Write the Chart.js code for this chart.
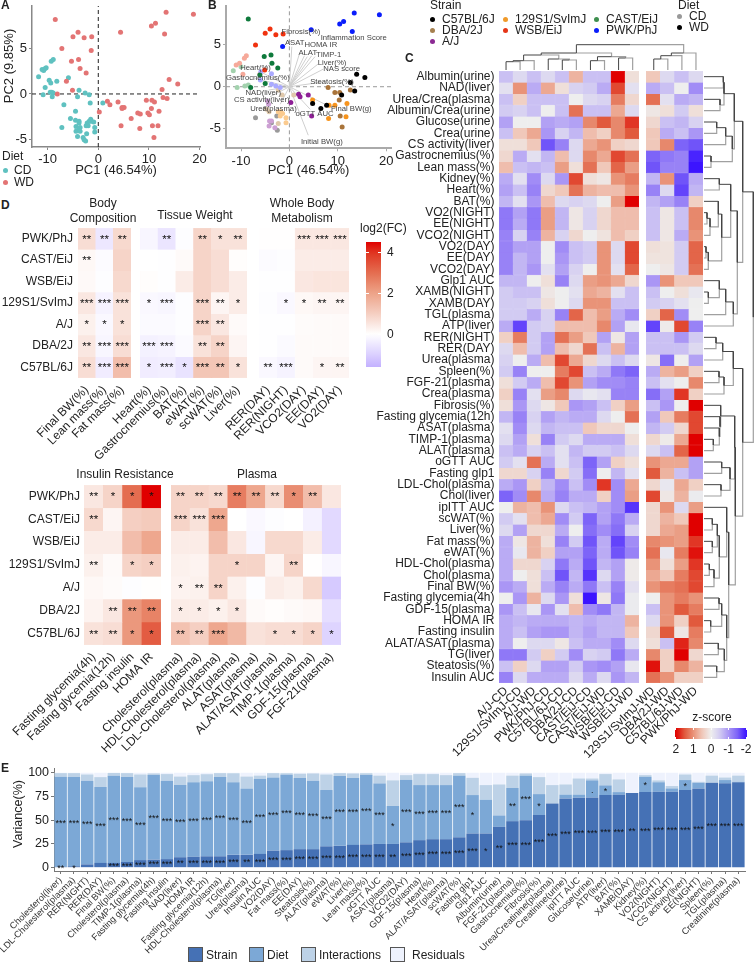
<!DOCTYPE html>
<html>
<head>
<meta charset="utf-8">
<title>Strain and diet metabolic phenotypes</title>
<script src="https://cdn.jsdelivr.net/npm/chart.js@4"></script>
<style>
  html, body { margin: 0; background: #fff; }
  #page { position: relative; width: 754px; height: 963px; overflow: hidden; font-family: "Liberation Sans", Arial, sans-serif; color: #222; }
  #page canvas { position: absolute; }
  .txt { position: absolute; white-space: pre; line-height: 1.25; }
</style>
</head>
<body>
<div id="page"></div>
<script>
// ---- A: PCA by diet
const pcaCD = [[-11.8,1.9],[-11.1,2.7],[-10.8,2.6],[-10.5,2.8],[-10.3,2.9],[-9.3,3.6],[-8.9,3.8],[-5.9,1.8],[-9.7,1.5],[-9.4,1.2],[-8.2,1.4],[-10.5,0.7],[-9.5,0.2],[-9.2,0.2],[-8.9,0.1],[-10.9,-0.1],[-9.1,-0.3],[-3.8,0.4],[-2.6,0.1],[-1.8,-0.1],[-4.1,-0.3],[-6.8,-1.2],[-1.6,-1.0],[0.9,-1.0],[-4.5,-1.9],[-5.5,-2.7],[-4.5,-2.9],[-3.8,-3.0],[-3.8,-3.2],[-7.2,-3.7],[-4.4,-3.6],[-2.2,-3.2],[-1.5,-2.8],[-1.8,-3.0],[-2.4,-3.5],[-2.0,-3.5],[-1.4,-3.0],[-0.9,-3.1],[-0.7,-3.7],[-0.7,-4.2],[-3.6,-3.7],[-3.9,-4.0],[-4.4,-4.1],[-3.6,-4.1],[-4.1,-4.7],[-2.3,-4.4],[-3.0,-4.8],[-2.5,-5.2],[-2.8,-5.05]];
const pcaWD = [[-8.5,8.2],[-5.0,6.3],[-4.0,6.8],[-2.8,6.2],[-1.3,6.3],[-7.2,5.0],[-1.4,4.8],[-5.3,3.6],[-3.9,3.8],[-3.6,2.8],[-2.4,2.3],[-6.3,1.4],[-5.1,0.4],[-8.1,0.0],[4.4,6.8],[10.5,7.5],[11.3,7.8],[13.4,9.0],[18.8,8.8],[13.1,6.6],[14.0,1.6],[15.7,1.1],[12.6,0.5],[12.8,-0.4],[13.6,-0.5],[1.8,-0.8],[2.3,-1.2],[0.2,-2.0],[3.9,-0.9],[4.7,-1.5],[5.1,-1.5],[4.7,-1.6],[6.5,-2.7],[7.8,-2.1],[8.3,-2.2],[9.5,-0.7],[10.6,-0.7],[11.1,-0.9],[10.5,-1.6],[9.8,-2.1],[10.1,-2.3],[12.0,-1.9],[4.5,-3.5],[8.2,-3.8],[10.7,-3.5],[11.8,-3.5],[11.0,-4.8]];

// ---- B: PCA by strain (WD then CD)
const pwkWD = [[13.4,8.8],[18.6,8.6],[11.2,7.8],[10.4,7.5],[13.0,6.6],[4.5,6.8],[-1.4,4.8]];
const wsbWD = [[-4.0,6.9],[-5.0,6.4],[-2.8,6.2],[-1.3,6.3],[-7.0,5.0],[-5.1,2.0]];
const castWD = [[-8.5,8.1],[-5.2,3.6],[-3.8,3.8],[-3.6,2.8],[-2.4,2.25],[-6.1,1.4],[-5.0,0.4],[-8.0,-0.1]];
const c57WD = [[13.9,1.5],[15.6,1.1],[12.6,0.5],[13.5,-0.5],[10.8,-1.0],[4.8,-2.0],[7.7,-2.2],[6.5,-2.6]];
const dbaWD = [[8.0,-0.1],[9.4,-0.7],[10.4,-0.7],[12.6,-0.4],[10.3,-1.6],[10.5,-3.5],[10.9,-4.8]];
const s129WD = [[4.8,-1.6],[8.2,-2.2],[9.4,-2.2],[11.9,-2.0],[11.7,-3.6],[8.1,-3.8]];
const ajWD = [[1.9,-0.9],[2.2,-1.2],[3.9,-1.0],[0.3,-1.9],[4.6,-3.5]];
const pwkCD = [[-5.9,1.8],[-3.7,1.55],[-6.0,0.8],[-3.7,0.3],[-2.8,0.1],[-1.9,-0.1]];
const wsbCD = [[-8.9,3.7],[-9.3,3.4],[-10.3,2.8],[-11.0,2.6],[-9.6,1.5],[-6.1,1.5]];
const castCD = [[-11.6,1.9],[-9.2,0.1],[-10.8,-0.1],[-8.5,0.2],[-10.0,2.4]];
const s129CD = [[-2.3,-3.0],[-1.8,-3.0],[-1.4,-3.2],[-0.7,-3.7],[-0.7,-4.3],[-1.9,-3.5]];
const ajCD = [[-4.5,-1.7],[-4.3,-2.1],[-4.1,-4.1],[-4.2,-4.7],[-3.0,-4.9],[-3.7,-4.1]];
const dbaCD = [[-2.3,-0.4],[-1.5,-1.0],[0.9,-1.0],[-4.2,-3.0],[-2.3,-4.4],[-4.7,-2.7]];
const c57CD = [[-7.0,-3.7],[-2.6,-3.5],[-3.7,-4.3],[-2.5,-5.2],[-5.0,-2.6]];
const loadingEnds = [[0.5,4.8],[2.0,3.8],[3.1,3.7],[3.7,3.6],[4.6,3.7],[5.3,3.6],[5.9,2.7],[7.0,2.1],[7.4,0.6],[-5.7,1.7],[-7.1,0.97],[-4.3,-0.4],[-4.0,-1.2],[-1.9,-2.1],[8.8,-2.5],[4.3,-2.7],[3.9,-5.8]];
const biplotNames = ["Fibrosis(%)","Inflammation Score","ASAT","HOMA IR","ALAT","TIMP-1","Liver(%)","NAS score","Steatosis(%)","Heart(%)","Gastrocnemius(%)","NAD(liver)","CS activity(liver)","Urea(plasma)","Final BW(g)","oGTT AUC","Initial BW(g)"];
const biplotX = [2.4,13.3,1.1,6.5,3.8,8.1,8.8,10.8,8.8,-7.0,-6.5,-5.4,-5.7,-3.3,12.8,5.2,6.7];
const biplotY = [6.5,5.8,5.2,5.0,4.1,3.8,2.9,2.1,0.6,2.3,1.1,-0.7,-1.6,-2.6,-2.6,-3.3,-6.55];

// ---- C: z-score heatmap
const heatCols = ["A/J-CD","129S1/SvImJ-CD","A/J-WD","PWK/PhJ-CD","C57BL/6J-CD","DBA/2J-CD","CAST/EiJ-CD","CAST/EiJ-WD","WSB/EiJ-CD","WSB/EiJ-WD","129S1/SvImJ-WD","DBA/2J-WD","C57BL/6J-WD","PWK/PhJ-WD"];
const heatRows = ["Albumin(urine)","NAD(liver)","Urea/Crea(plasma)","Albumin/Crea(urine)","Glucose(urine)","Crea(urine)","CS activity(liver)","Gastrocnemius(%)","Lean mass(%)","Kidney(%)","Heart(%)","BAT(%)","VO2(NIGHT)","EE(NIGHT)","VCO2(NIGHT)","VO2(DAY)","EE(DAY)","VCO2(DAY)","Glp1 AUC","XAMB(NIGHT)","XAMB(DAY)","TGL(plasma)","ATP(liver)","RER(NIGHT)","RER(DAY)","Urea(plasma)","Spleen(%)","FGF-21(plasma)","Crea(plasma)","Fibrosis(%)","Fasting glycemia(12h)","ASAT(plasma)","TIMP-1(plasma)","ALAT(plasma)","oGTT AUC","Fasting glp1","LDL-Chol(plasma)","Chol(liver)","ipITT AUC","scWAT(%)","Liver(%)","Fat mass(%)","eWAT(%)","HDL-Chol(plasma)","Chol(plasma)","Final BW(%)","Fasting glycemia(4h)","GDF-15(plasma)","HOMA IR","Fasting insulin","ALAT/ASAT(plasma)","TG(liver)","Steatosis(%)","Insulin AUC"];
const zScores = [
  [-.6,-.3,-.6,-.3,-.6,.7,-.6,-.6,2,.2,.5,-.3,-.6,-.3],
  [-.2,1,-.8,.8,.2,-.4,-.5,-.8,1.6,-.2,-.8,-.6,0,-1.1],
  [-.6,.4,-.6,-.6,-.6,0,-.3,-.4,1.2,.3,1.3,-.2,-.8,-.7],
  [-.5,-.4,-.6,0,-.6,1.3,-.6,-.6,.8,-.3,.1,.2,-.5,.2],
  [-.9,0,0,-.9,-.8,-.9,1.1,1.5,1.1,1.7,.3,-.6,-.7,-.4],
  [-.6,.5,.8,-1,-.4,-.7,.6,.4,1.1,1.5,.5,-.8,-.6,-1],
  [.2,.2,.5,-1.6,-1.2,-.3,.8,1,.4,.3,.5,1.1,-1.5,-1.6],
  [.3,-.8,-.2,-.7,.6,-.3,1.1,.8,1.6,1.3,-1.5,-1.3,-1.2,-1.9],
  [.6,-.6,-.7,-.6,.9,.2,1.3,.5,1.4,.9,-1.6,-1.2,-1.2,-2],
  [-.8,-.2,-1.1,-.3,-1,1.6,.2,.1,1,1.2,-.7,1,-1.6,-.8],
  [-.9,-.6,-1.2,.3,.5,1.3,.7,.6,.6,1,-1.2,-.3,-1.7,-.7],
  [-.7,-.2,-1,.6,-.3,-.4,-.3,0,.9,2,-.7,-.9,-1.2,.4],
  [-1.3,-.9,-1.3,.9,-.7,.1,-.4,.3,.6,.6,-.6,.1,-.6,1.1],
  [-1.3,-.8,-1.3,.9,-.7,.1,-.4,.3,.6,.6,-.6,.1,-.6,1.1],
  [-1.2,-.4,-1.2,.7,-.4,.3,0,.15,.6,.4,-.6,.1,-.8,1],
  [-1.2,-.9,-.9,0,-1.1,-.6,-.5,1,-.3,1.6,.2,.15,-.5,1.4],
  [-1.2,-.7,-.9,0,-1,-.6,-.5,1,-.3,1.6,.15,.15,-.5,1.4],
  [-1.2,-.7,-1,-.2,-.9,-.4,0,1,-.2,1.4,0,.1,-.5,1.3],
  [-.7,-.7,0,.2,-1.2,-.3,.9,1,.8,.3,-1,1,.5,.5],
  [-.5,-.6,-.6,.1,0,-.2,.8,.7,-.2,-.6,-.6,0,.2,-.1],
  [-.5,-.5,-.4,.2,0,-.3,1,1,-.6,-.6,-.5,-.4,-.2,0],
  [-.5,-.5,-.8,-.4,-1.2,1.4,.6,.9,-.8,-1.1,.4,1.4,-1.1,0],
  [-.8,-1.7,-.5,-.4,.6,.6,.6,1.1,-.9,-.1,-1.7,.05,1.6,-1.2],
  [.4,1.2,-.5,-.9,1.3,.9,.5,-.9,.1,-.9,-.6,-.6,-1,-.5],
  [-.3,.6,-.5,-.9,.6,.3,1.3,-.6,.7,-.9,-.6,-.6,-.6,-.3],
  [-.4,0,-.8,.6,1.6,.8,.3,-.3,-.6,-.3,.1,-1.4,0,-.9],
  [-.5,-1.2,0,0,1.2,1.6,-.6,-.8,-1.3,-1.5,-.8,.7,.9,.4],
  [.2,-.5,-.8,.6,1.6,1,-.9,-1.1,-1.1,-1.2,-.6,-.2,0,1.1],
  [.4,-1.2,-.2,.9,1.1,-.3,-.1,-.2,-1.2,-1.2,-1.4,-.9,1.7,.4],
  [.2,-1,-.3,.1,.5,-1,-.9,-.6,.4,.9,-.6,-1,0,2],
  [-.7,-1.2,-.4,-.9,-.7,-.8,-.8,-.3,0,1.3,-.9,.5,1.2,1.6],
  [-.2,-1.1,-.3,-.7,-.6,-.6,.5,.3,.3,0,-.7,-.5,.3,1.6],
  [-.3,-.9,.2,-1.2,-.5,-.3,-.8,-.8,-.8,.2,.3,.05,.8,2],
  [-.6,-.8,-.4,-.6,-.2,-.7,-.5,-.5,-.6,-.3,-.3,-.6,1.4,2],
  [-.5,-.2,1.3,-.8,-.2,-.6,-1.5,-.9,.4,.2,1,.8,.8,-.9],
  [.3,.3,-.4,-1.2,.3,-.5,-1.4,0,-.7,-.2,1.5,.7,-.6,-.9],
  [-.8,-1,.4,-.7,-1.1,-.6,-1.1,1.7,-1.1,.8,.3,-.1,.8,.4],
  [-1.5,-1.1,1.1,-.8,-1.2,-.8,-.8,.4,-1.1,.9,1.6,.1,.7,-.05],
  [0,.7,.6,1,-.3,-.6,-.7,-.9,-1.1,-1.8,.3,1,-.3,.9],
  [-.5,-.2,.6,.8,-1.1,-.5,-1.5,-.9,-1.3,-.8,.3,.7,.5,2],
  [-.3,-.9,.3,.3,-.8,0,-1.4,-1.1,-1.4,-.4,.3,.8,.9,2],
  [-.8,.1,.7,.2,-1.2,-.5,-1.6,-.8,-1.7,-1.1,1.1,1,.9,1.7],
  [-.8,-.1,.7,.4,-.9,-.9,-1.5,-.8,-1.6,-1.2,1.3,-.1,1.2,1.9],
  [-.8,.3,.3,-.4,-1.3,-.8,-1.6,-.7,-.9,.05,1,.2,.9,1.7],
  [-.8,0,.2,-.6,-1.6,-.7,-1.8,-.3,-.9,.05,.8,.5,1.2,1.6],
  [-1,-.8,.2,-.8,-1.2,-.8,-1.3,-.6,-1.2,-.2,1,1.2,1.3,1.6],
  [0,-1,.7,-.3,-1,.2,-2,.1,-1.3,-.05,0,1,1.2,1],
  [-1,-.6,-.1,-1,-.2,.6,-1.1,-1.3,-.7,-.05,-.6,1,1.5,1.2],
  [-.8,-.7,-.8,-.8,-.8,-.7,-.8,-.7,-.7,.7,-.3,1,.4,1.5],
  [-.8,-.6,-.9,-1,-1,-.7,-.9,-.7,-.7,.5,.3,1.5,.1,1.2],
  [-.8,0,-.3,-.3,.1,-.6,-.8,-.8,-1.1,-.3,.2,-.6,1.8,1.1],
  [-1.3,-1.3,-.5,.4,-.5,-1.1,-.4,-.5,-1.3,-.8,1.1,.4,2,.3],
  [-.6,.4,-.3,-.9,-.9,-.5,-1,-1.1,-.9,-.1,1.9,.4,1.1,.7],
  [-1.2,-.3,-.8,-.8,-.8,-.3,-.8,-.3,-1,-.7,1.3,1,.4,.4]
];
// dendrograms: [height, left, right], a plain number is a leaf index
const colTree = [25.3, [17, [15, [9.3, [8.3, 0, 1], 2], [11, 3, [10, 4, 5]]], [13.3, [9.3, 6, 7], [12, 8, 9]]], [17, [14.3, [11, 10, 11], 12], 13]];
const rowTree = [49.3,
  [38.7,
    [30.3, [20, [19.3, 0, 1], [16, 2, 3]], [28.3, [21.7, [12.7, 4, 5], 6], [7, 7, 8]]],
    [33.3,
      [26.7, [15.3, 9, 10], [17.7, [14.3, 11, [6, [3, 12, 13], 14]], [4.3, [2, 15, 16], 17]]],
      [29.3, [21.7, [15.3, 18, [4.3, 19, 20]], 21], 22]]],
  [38.7,
    [29.3, [18.7, [12, 23, 24], 25], [20, [15, 26, 27], 28]],
    [31.3,
      [30.7, [16.7, 29, [16, 30, [15.3, 31, [9.3, 32, 33]]]], [26, [17.7, 34, 35], [17, 36, 37]]],
      [24.7,
        [22.7, 38, [15.3, [13.3, [8.3, 39, 40], [8.3, 41, 42]], [10, [5.3, 43, 44], 45]]],
        [22.7, [17.7, [15, 46, 47], [6.7, 48, 49]], [20.3, [14.3, 50, 51], [12.7, 52, 53]]]]]]];

// ---- D: log2(FC) heatmaps
const strains = ["PWK/PhJ","CAST/EiJ","WSB/EiJ","129S1/SvImJ","A/J","DBA/2J","C57BL/6J"];
const bodyCols = ["Final BW(%)","Lean mass(%)","Fat mass(%)"];
const bodyFC = [[.7,-.5,.8],[.15,-.08,.9],[.12,-.05,.8],[.5,-.25,.6],[.3,-.15,.6],[.5,-.2,.7],[.7,-.4,1.4]];
const bodyStars = [["**","**","**"],["**","",""],["","",""],["***","***","***"],["*","*","*"],["**","***","***"],["**","***","***"]];
const tissueCols = ["Heart(%)","Gastrocnemius(%)","BAT(%)","eWAT(%)","scWAT(%)","Liver(%)"];
const tissueFC = [[-.2,-.55,-.05,.9,.6,.6],[0,-.03,.1,.9,.7,.05],[.05,-.03,.4,.9,.7,.4],[-.15,-.2,-.05,.9,.2,.4],[-.1,-.1,-.05,.9,.5,.1],[-.3,-.25,-.1,.6,.9,.2],[-.4,-.35,-.6,1.2,1.2,.6]];
const tissueStars = [["","**","","**","*","**"],["","","","","",""],["","","","","",""],["*","***","","***","**","*"],["","","","***","**",""],["***","***","","**","**",""],["*","***","*","***","**","*"]];
const wholeCols = ["RER(DAY)","RER(NIGHT)","VCO2(DAY)","EE(DAY)","VO2(DAY)"];
const wholeFC = [[.02,.02,.5,.5,.5],[-.08,-.05,.4,.4,.4],[-.03,-.02,.5,.55,.55],[-.05,-.15,.15,.2,.2],[-.02,-.02,.08,.1,.1],[-.03,-.1,.1,.1,.1],[-.15,-.25,.1,.2,.2]];
const wholeStars = [["","","***","***","***"],["","","","",""],["","","","",""],["","*","*","**","**"],["","","","",""],["","","","",""],["**","***","","*","**"]];
const insulinCols = ["Fasting glycemia(4h)","Fasting glycemia(12h)","Fasting insulin","HOMA IR"];
const insulinFC = [[.5,.9,3,4.5],[.8,.2,1,1.1],[.4,.4,1.4,1.9],[.3,.1,.9,1],[.15,.08,-.05,.03],[.25,.5,2.2,2.6],[.6,.7,2.2,3.3]];
const insulinStars = [["**","*","*","*"],["**","","",""],["","","",""],["**","","*","*"],["","","",""],["","**","**","**"],["**","**","*","*"]];
const plasmaCols = ["Cholesterol(plasma)","HDL-Cholesterol(plasma)","LDL-Cholesterol(plasma)","ALAT(plasma)","ASAT(plasma)","ALAT/ASAT(plasma)","TIMP-1(plasma)","GDF-15(plasma)","FGF-21(plasma)"];
const plasmaFC = [[.9,.9,.8,2.7,1.9,.8,2.4,1.4,.5],[.9,.6,1.9,0,-.15,-.05,0,-.3,-.8],[.4,.4,1.4,.5,-.2,.8,.8,.4,-.8],[.3,.25,.9,.9,.9,.2,.9,.02,-.2],[.25,.3,.9,.3,-.05,.4,.3,.8,-1.1],[.4,.4,.3,.5,.1,.05,.1,.15,-.7],[1.3,1,1.9,1.5,.6,.7,.7,.9,-.9]];
const plasmaStars = [["**","**","**","**","**","**","*","**",""],["***","***","***","","","","","",""],["","","","","","","","",""],["","","","*","","","**","",""],["*","**","**","","","","","",""],["*","*","*","*","","","","",""],["**","**","***","","","*","*","*","*"]];

// ---- E: variance decomposition
const varLabels = ["Cholesterol(liver)","LDL-Cholesterol(plasma)","RER(NIGHT)","RER(DAY)","Final BW(%)","Cholesterol(plasma)","TIMP-1(plasma)","Fasting glycemia(4h)","Fasting insulin","NAD(liver)","HOMA IR","Fasting glycemia(12h)","HDL-Cholesterol(plasma)","TG(liver)","Urea(plasma)","Insulin AUC","VO2(DAY)","Fat mass(%)","EE(DAY)","Steatosis(%)","ALAT(plasma)","eWAT(%)","Liver(%)","Lean mass(%)","oGTT AUC","ASAT(plasma)","VCO2(DAY)","GDF-15(plasma)","Heart(%)","ALAT/ASAT(plasma)","scWAT(%)","Fasting glp1","Glp1 AUC","Albumin(urine)","FGF-21(plasma)","Gastrocnemius(%)","Fibrosis(%)","Urea/Creatinine(plasma)","Creatinine(urine)","ipITT AUC","Glucose(urine)","ATP(liver)","BAT(%)","XAMB(DAY)","Kidney(%)","VO2(NIGHT)","VCO2(NIGHT)","CS activity(liver)","EE(NIGHT)","Spleen(%)","TGL(plasma)","Creatinine(plasma)"];
const varStrain = [1,1.5,3.5,5,5,6,8,8.5,9,11,11.5,12,12,13.5,13.5,14.5,18,18.5,19.5,19.5,22.5,23,24,24.5,25,25,26.7,29,30,30,32,36,36,43,49,50,55.5,67.7,73,73.7,74,76.5,76.8,78.6,79.6,80,80,81.8,83.5,89.5,89,90];
const varDiet = [94.8,93.9,88.1,80,91.8,89.4,76.6,89,82.6,76,78.5,79,83.4,76.5,70,79.2,77,79.3,74.9,72.1,59.3,73.5,70.4,73,63.8,40,65.9,58,57,57,65,40.5,35.6,12,35,47,22,0,4,3.3,18,10.2,2.8,0,16.2,10,3.5,10.5,6,0,3.3,.5];
const varInter = [3.8,4.2,6.6,10.4,3,4.2,13.6,1.8,7,9,7.5,7.5,4.2,9.5,12.5,3.3,4.6,1.7,4.6,7.7,16.4,3.1,4.9,2,8.2,27,4.9,11.6,11.6,10.5,2.6,18.2,15.4,32.7,13,2.3,17.9,19.3,10.7,17,2,11.9,13.4,0,1.7,2,2.5,5.9,1,7.5,2.7,6.5];
const varResid = [.4,.4,1.8,4.6,.2,.4,1.8,.7,1.4,4,2.5,1.5,.4,.5,4,3,.4,.5,1,.7,1.8,.4,.7,.5,3,8,2.5,1.4,1.4,2.5,.4,5.3,13,12.3,3,.7,4.6,13,12.3,6,6,1.4,7,21.4,2.5,8,14,1.8,9.5,3,5,3];
const strainStars = ["**","*","","","***","***","***","***","***","**","***","***","***","***","**","***","***","***","***","***","***","***","***","***","***","**","***","***","***","***","***","***","*","**","***","***","***","***","***","***","***","***","***","**","***","***","***","***","***","***","***","***"];
const dietStars = ["***","***","***","***","***","***","***","***","***","***","***","***","***","***","***","***","***","***","***","***","***","***","***","***","***","*","***","***","***","***","***","*","","","**","***","*","","","",".","*","","","*","","","*","","","",""];

// ---- helpers
const FONT = '"Liberation Sans", Arial, sans-serif';
Chart.defaults.font.family = FONT;
Chart.defaults.color = "#222";
Chart.defaults.animation = false;
Chart.defaults.responsive = false;
Chart.defaults.events = [];
Chart.defaults.plugins.legend.display = false;
Chart.defaults.plugins.tooltip.enabled = false;

const page = document.getElementById("page");

function addCanvas(left, top, width, height) {
  const c = document.createElement("canvas");
  c.width = width;
  c.height = height;
  c.style.cssText = `left:${left}px;top:${top}px;width:${width}px;height:${height}px`;
  page.appendChild(c);
  return c;
}

function addText(text, x, y, size, extra) {
  const d = document.createElement("div");
  d.className = "txt";
  d.textContent = text;
  const e = extra || {};
  const tx = e.center || e.rotate ? "-50%" : "0";
  const turn = e.rotate ? " rotate(-90deg)" : "";
  d.style.cssText = `left:${x}px;top:${y}px;font-size:${size}px;transform:translate(${tx},-50%)${turn};font-weight:${e.bold ? "bold" : "normal"};text-align:${e.center ? "center" : "left"}`;
  page.appendChild(d);
}

function addDot(x, y, color) {
  const d = document.createElement("div");
  d.style.cssText = `position:absolute;left:${x - 2.5}px;top:${y - 2.5}px;width:5px;height:5px;border-radius:50%;background:${color}`;
  page.appendChild(d);
}

function addBox(x, color) {
  const d = document.createElement("div");
  d.style.cssText = `position:absolute;left:${x}px;top:947px;width:13px;height:13px;border:1px solid #555;background:${color}`;
  page.appendChild(d);
}

// axes get an exact size so the plot areas land where they should
function zeroPadding(s) { s.paddingLeft = s.paddingRight = s.paddingTop = s.paddingBottom = 0; }
const fitX = h => s => { s.height = h; zeroPadding(s); };
const fitY = w => s => { s.width = w; zeroPadding(s); };

function ramp(stops) {
  return v => {
    if (v <= stops[0][0]) return `rgb(${stops[0][1].join(",")})`;
    for (let i = 1; i < stops.length; i++) {
      if (v <= stops[i][0]) {
        const t = (v - stops[i - 1][0]) / (stops[i][0] - stops[i - 1][0]);
        const c = stops[i][1].map((b, k) => Math.round(stops[i - 1][1][k] + (b - stops[i - 1][1][k]) * t));
        return `rgb(${c.join(",")})`;
      }
    }
    return `rgb(${stops[stops.length - 1][1].join(",")})`;
  };
}
const zStops = [[-2,[60,20,255]],[-1.5,[125,100,248]],[-1,[170,150,245]],[-.5,[210,203,242]],[0,[238,238,238]],[.5,[240,200,186]],[1,[233,147,120]],[1.5,[225,90,61]],[2,[224,0,0]]];
const fcStops = [[-1.6,[195,177,255]],[-.8,[226,217,255]],[0,[255,255,255]],[1,[245,207,194]],[2,[237,163,136]],[3,[228,109,80]],[4,[224,52,32]],[4.5,[224,0,0]]];
const zColor = ramp(zStops);
const fcColor = ramp(fcStops);

// significance marks sit on top of the bar elements
Chart.register({
  id: "stars",
  afterDatasetsDraw(chart, args, opts) {
    if (!opts.size) return;
    const ctx = chart.ctx;
    ctx.save();
    ctx.font = `${opts.size}px ${FONT}`;
    ctx.fillStyle = "#111";
    ctx.textAlign = "center";
    chart.data.datasets.forEach((ds, i) => {
      if (!ds.stars) return;
      chart.getDatasetMeta(i).data.forEach((bar, j) => {
        if (!ds.stars[j]) return;
        const p = bar.getCenterPoint();
        ctx.fillText(ds.stars[j], p.x, p.y + opts.dy);
      });
    });
    ctx.restore();
  }
});

// text anchored to data points, used by the biplot
Chart.register({
  id: "pointText",
  afterDatasetsDraw(chart) {
    const ctx = chart.ctx;
    chart.data.datasets.forEach((ds, i) => {
      if (!ds.texts) return;
      ctx.save();
      ctx.font = `7.7px ${FONT}`;
      ctx.fillStyle = "#444";
      ctx.textAlign = "center";
      ctx.textBaseline = "middle";
      chart.getDatasetMeta(i).data.forEach((pt, j) => ctx.fillText(ds.texts[j], pt.x, pt.y));
      ctx.restore();
    });
  }
});

const pts = arr => arr.map(([x, y]) => ({ x, y }));
const dots = (arr, color) => ({ data: pts(arr), pointRadius: 2.5, pointBorderWidth: 0, pointBackgroundColor: color, showLine: false });
const segment = (data, color, dash, width) => ({ data, borderColor: color, borderWidth: width, borderDash: dash, pointRadius: 0, showLine: true, clip: false });

function pcaAxis(min, max, step, axisColor, lineW, size, title) {
  return {
    min, max,
    grid: { drawOnChartArea: false, tickLength: 3, tickColor: axisColor, tickWidth: 1 },
    border: { color: axisColor, width: lineW },
    ticks: { stepSize: step, includeBounds: false, font: { size: 13 }, padding: 2, color: "#222" },
    title: title ? { display: true, text: title, font: { size: 13 }, padding: { top: 0, bottom: 0 }, color: "#222" } : { display: false },
    afterFit: size
  };
}

// every cell is a stacked bar of height one; one dataset per row
function heatChart(o) {
  const w = o.x1 - o.x0 + o.left + 2;
  const h = o.y1 - o.y0 + o.bottom;
  const c = addCanvas(o.x0 - o.left, o.y0, w, h);
  new Chart(c, {
    type: "bar",
    data: {
      labels: o.cols,
      datasets: o.rows.map((r, i) => {
        const fills = o.values[i].map(o.color);
        return {
          label: r,
          data: o.cols.map(() => 1),
          backgroundColor: fills,
          borderColor: fills,
          borderWidth: 0.5,
          borderSkipped: false,
          barPercentage: 1,
          categoryPercentage: 1,
          stars: o.stars ? o.stars[i] : null
        };
      })
    },
    options: {
      layout: { padding: { right: 2 } },
      plugins: { stars: o.stars ? { size: 11.5, dy: 4 } : {} },
      scales: {
        x: {
          stacked: true,
          grid: { display: false, drawTicks: false },
          border: { display: false },
          ticks: { autoSkip: false, minRotation: 45, maxRotation: 45, font: { size: 12 }, padding: o.colPad || 5, color: "#222" },
          afterFit: fitX(o.bottom)
        },
        y: { stacked: true, display: false, reverse: true, min: 0, max: o.rows.length },
        rowLabels: {
          type: "category",
          labels: o.rows,
          position: "left",
          offset: true,
          grid: { display: false, drawTicks: false },
          border: { display: false },
          ticks: { display: o.showRows, autoSkip: false, font: { size: 12 }, padding: o.rowPad || 4, color: "#222" },
          afterFit: fitY(o.left)
        }
      }
    }
  });
}

function dendroChart(tree, leafPos, rect, xRange, yRange, flip, reverseY) {
  const dark = [], grey = [];
  const gap = { x: NaN, y: NaN };
  const pt = (pos, h) => (flip ? { x: h, y: pos } : { x: pos, y: h });
  function walk(node) {
    if (typeof node === "number") return { pos: leafPos(node), h: 0 };
    const a = walk(node[1]);
    const b = walk(node[2]);
    const mid = (a.pos + b.pos) / 2;
    dark.push(pt(a.pos, a.h), pt(a.pos, node[0]), pt(mid, node[0]), gap);
    grey.push(pt(b.pos, b.h), pt(b.pos, node[0]), pt(mid, node[0]), gap);
    return { pos: mid, h: node[0] };
  }
  walk(tree);
  new Chart(addCanvas(rect[0], rect[1], rect[2], rect[3]), {
    type: "scatter",
    data: { datasets: [segment(dark, "#444", [], 1), segment(grey, "#a0a0a0", [], 1.2)] },
    options: {
      scales: {
        x: { display: false, min: xRange[0], max: xRange[1] },
        y: { display: false, min: yRange[0], max: yRange[1], reverse: !!reverseY }
      }
    }
  });
}

function colorBar(rect, horizontal, stops, min, max, step, labelSize) {
  const c = addCanvas(rect[0], rect[1], rect[2], rect[3]);
  const axis = {
    min, max, reverse: horizontal,
    position: horizontal ? "bottom" : "right",
    grid: { z: 1, color: "#fff", drawTicks: false },
    border: { display: false, dash: horizontal ? [2, 7] : [3, 9] },
    ticks: { stepSize: step, includeBounds: false, font: { size: 12 }, padding: horizontal ? 3 : 6, color: "#222" },
    afterFit: horizontal ? fitX(labelSize) : fitY(labelSize)
  };
  const other = { display: false, grid: { display: false } };
  new Chart(c, {
    type: "bar",
    data: {
      labels: [""],
      datasets: [{
        data: [[min, max]],
        barPercentage: 1,
        categoryPercentage: 1,
        backgroundColor(ctx) {
          const a = ctx.chart.chartArea;
          if (!a) return "#eee";
          const g = horizontal
            ? ctx.chart.ctx.createLinearGradient(a.right, 0, a.left, 0)
            : ctx.chart.ctx.createLinearGradient(0, a.bottom, 0, a.top);
          const paint = ramp(stops);
          for (let i = 0; i <= 30; i++) g.addColorStop(i / 30, paint(min + (max - min) * i / 30));
          return g;
        }
      }]
    },
    options: {
      indexAxis: horizontal ? "y" : "x",
      layout: { padding: horizontal ? { left: 5, right: 7 } : {} },
      scales: horizontal ? { x: axis, y: other } : { y: axis, x: other }
    }
  });
}

// ---- panel A
new Chart(addCanvas(0, 2, 216, 176), {
  type: "scatter",
  data: {
    datasets: [
      dots(pcaWD, "#e37474"),
      dots(pcaCD, "#5fc1c0"),
      segment([{ x: 0, y: -5.85 }, { x: 0, y: 9.7 }], "#222", [4, 3], 1),
      segment([{ x: -13.1, y: 0 }, { x: 20.1, y: 0 }], "#222", [4, 3], 1)
    ]
  },
  options: {
    layout: { padding: { right: 16 } },
    scales: {
      x: pcaAxis(-13.1, 20.1, 10, "#888", 1.5, fitX(31), "PC1 (46.54%)"),
      y: pcaAxis(-5.85, 9.7, 5, "#888", 1.5, fitY(32), null)
    }
  }
});

// ---- panel B
new Chart(addCanvas(200, 2, 204, 176), {
  type: "scatter",
  data: {
    datasets: [
      { data: biplotX.map((x, i) => ({ x, y: biplotY[i] })), texts: biplotNames, pointRadius: 0, showLine: false },
      dots(pwkWD, "#0a1dfb"), dots(wsbWD, "#f0320f"), dots(castWD, "#0f7a3c"), dots(c57WD, "#000"),
      dots(dbaWD, "#a9743a"), dots(s129WD, "#f7941d"), dots(ajWD, "#8e1f96"),
      dots(pwkCD, "#aaaaff"), dots(wsbCD, "#f6a99a"), dots(castCD, "#a3d2ae"), dots(s129CD, "#fbcb8f"),
      dots(ajCD, "#cda0d4"), dots(dbaCD, "#e0c9ab"), dots(c57CD, "#9a9a9a"),
      ...loadingEnds.map(e => segment([{ x: 0, y: 0 }, { x: e[0], y: e[1] }], "#cfcfcf", [], 1)),
      segment([{ x: 0, y: -7.36 }, { x: 0, y: 9.65 }], "#999", [4, 3], 1),
      segment([{ x: -13.1, y: 0 }, { x: 21, y: 0 }], "#999", [4, 3], 1)
    ]
  },
  options: {
    layout: { padding: { right: 13 } },
    scales: {
      x: pcaAxis(-13.1, 21, 10, "#aaa", 2, fitX(29.7), "PC1 (46.54%)"),
      y: pcaAxis(-7.36, 9.65, 5, "#aaa", 2, fitY(26), null)
    }
  }
});

// ---- panel C
heatChart({ x0: 499, x1: 639, y0: 71, y1: 683, left: 130, bottom: 85, colPad: 1, rowPad: 4.5, cols: heatCols.slice(0, 10), rows: heatRows, values: zScores.map(r => r.slice(0, 10)), color: zColor, showRows: true });
heatChart({ x0: 646, x1: 703, y0: 71, y1: 683, left: 90, bottom: 85, colPad: 1, cols: heatCols.slice(10), rows: heatRows, values: zScores.map(r => r.slice(10)), color: zColor, showRows: false });
const colPos = i => (i < 10 ? i + 0.5 : i + 1);
dendroChart(colTree, colPos, [499, 43, 204, 27], [0, 14.5], [0, 27]);
dendroChart(rowTree, i => i + 0.5, [704, 71, 50, 612], [0, 50], [0, 54], true, true);
colorBar([670, 728, 84, 28], true, zStops, -2.05, 2.05, 1, 17);

// ---- panel D
heatChart({ x0: 78, x1: 131, y0: 228, y1: 378, left: 78, bottom: 105, rowPad: 5, cols: bodyCols, rows: strains, values: bodyFC, stars: bodyStars, color: fcColor, showRows: true });
heatChart({ x0: 140, x1: 247, y0: 228, y1: 378, left: 110, bottom: 105, cols: tissueCols, rows: strains, values: tissueFC, stars: tissueStars, color: fcColor, showRows: false });
heatChart({ x0: 259, x1: 349, y0: 228, y1: 378, left: 80, bottom: 105, cols: wholeCols, rows: strains, values: wholeFC, stars: wholeStars, color: fcColor, showRows: false });
heatChart({ x0: 84, x1: 161, y0: 485, y1: 645, left: 84, bottom: 135, cols: insulinCols, rows: strains, values: insulinFC, stars: insulinStars, color: fcColor, showRows: true });
heatChart({ x0: 171, x1: 341, y0: 485, y1: 645, left: 130, bottom: 135, cols: plasmaCols, rows: strains, values: plasmaFC, stars: plasmaStars, color: fcColor, showRows: false });
colorBar([366, 242, 45, 125], false, fcStops, -1.6, 4.5, 2, 30);

// ---- panel E
const varBar = (label, data, color, stars) => ({ label, data, backgroundColor: color, barPercentage: 0.94, categoryPercentage: 1, stars });
new Chart(addCanvas(0, 765, 754, 198), {
  type: "bar",
  data: {
    labels: varLabels,
    datasets: [
      varBar("Strain", varStrain, "#4571b5", strainStars),
      varBar("Diet", varDiet, "#7ca8d6", dietStars),
      varBar("Interactions", varInter, "#bdd2e7"),
      varBar("Residuals", varResid, "#eef2fd")
    ]
  },
  options: {
    layout: { padding: { top: 3, right: 9 } },
    plugins: { stars: { size: 9, dy: 4 } },
    scales: {
      x: {
        stacked: true,
        grid: { drawOnChartArea: false, offset: false, tickLength: 3, tickColor: "#777" },
        border: { color: "#777", width: 1 },
        ticks: { autoSkip: false, minRotation: 45, maxRotation: 45, font: { size: 9.2 }, padding: 1, color: "#333" },
        afterFit: fitX(92)
      },
      y: {
        stacked: true,
        min: -3.5,
        max: 105,
        grid: { drawOnChartArea: false, tickLength: 3, tickColor: "#777" },
        border: { color: "#777", width: 1 },
        ticks: { stepSize: 25, includeBounds: false, font: { size: 12.5 }, padding: 2, color: "#222" },
        afterFit: fitY(54)
      }
    }
  }
});

// ---- text, letters and legends
addText("A", 1, 5, 12, { bold: true });
addText("B", 208, 5, 12, { bold: true });
addText("C", 405, 58, 12, { bold: true });
addText("D", 1, 205, 12, { bold: true });
addText("E", 1, 768, 12, { bold: true });

addText("PC2 (9.85%)", 9, 66, 13, { rotate: true });
addText("Variance(%)", 19, 814, 12.5, { rotate: true });

addText("Diet", 2, 156, 12);
addDot(5, 170, "#5fc1c0"); addText("CD", 14, 170, 12);
addDot(5, 182, "#e37474"); addText("WD", 14, 182, 12);

addText("Strain", 430, 5, 12);
[["C57BL/6J", "#000", 432, 19], ["DBA/2J", "#a6804f", 432, 30], ["A/J", "#8b2a93", 432, 41],
 ["129S1/SvImJ", "#f09a2a", 505, 19], ["WSB/EiJ", "#e53517", 505, 30],
 ["CAST/EiJ", "#3e8f4e", 596, 19], ["PWK/PhJ", "#0a1dfb", 596, 30]].forEach(s => {
  addDot(s[2], s[3], s[1]);
  addText(s[0], s[2] + 10, s[3], 12);
});
addText("Diet", 678, 5, 12);
addDot(679, 16, "#999"); addText("CD", 689, 16, 12);
addDot(679, 27, "#000"); addText("WD", 689, 27, 12);

addText("z-score", 712, 717, 12, { center: true });
addText("Body\nComposition", 103, 211, 12, { center: true });
addText("Tissue Weight", 195, 215, 12, { center: true });
addText("Whole Body\nMetabolism", 302, 211, 12, { center: true });
addText("log2(FC)", 360, 228, 12);
addText("Insulin Resistance", 125, 474, 12, { center: true });
addText("Plasma", 257, 474, 12, { center: true });

[["Strain", "#4571b5", 188, 206], ["Diet", "#7ca8d6", 249, 267], ["Interactions", "#bdd2e7", 301, 319], ["Residuals", "#eef2fd", 390, 412]].forEach(b => {
  addBox(b[2], b[1]);
  addText(b[0], b[3], 955, 12);
});
</script>
</body>
</html>
